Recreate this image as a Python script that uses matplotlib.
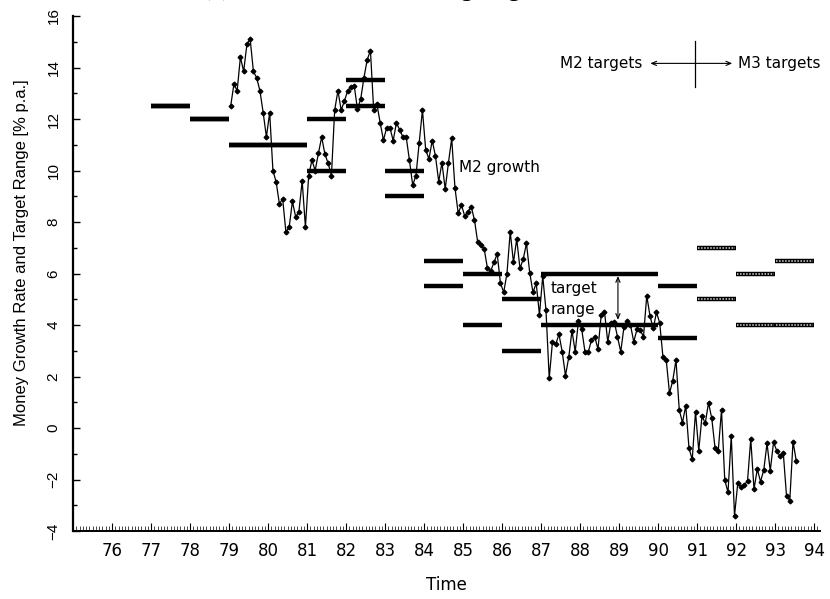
import numpy as np
import matplotlib
matplotlib.use("Agg")
import matplotlib.pyplot as plt

# monthly M2 growth, Jan 1979 onwards (% p.a.)
m2_growth = [
    12.5, 13.35, 13.1, 14.4, 13.85, 14.9, 15.1, 13.85, 13.6, 13.1, 12.25, 11.3,
    12.25, 10.0, 9.55, 8.7, 8.9, 7.6, 7.8, 8.8, 8.2, 8.4, 9.6, 7.8,
    9.8, 10.4, 10.0, 10.67, 11.3, 10.63, 10.28, 9.8, 12.35, 13.1, 12.35, 12.7,
    13.1, 13.25, 13.3, 12.4, 12.77, 13.6, 14.3, 14.66, 12.35, 12.57, 11.85, 11.18,
    11.66, 11.66, 11.16, 11.85, 11.57, 11.3, 11.3, 10.4, 9.43, 9.8, 11.08, 12.35,
    10.8, 10.45, 11.16, 10.57, 9.57, 10.3, 9.28, 10.3, 11.25, 9.33, 8.34, 8.66,
    8.23, 8.4, 8.6, 8.08, 7.22, 7.1, 6.95, 6.2, 6.1, 6.43, 6.76, 5.62,
    5.27, 6.0, 7.62, 6.43, 7.34, 6.2, 6.56, 7.17, 6.03, 5.27, 5.62, 4.39,
    5.9, 4.58, 1.93, 3.35, 3.25, 3.64, 2.96, 2.03, 2.74, 3.78, 2.96, 4.17,
    3.83, 2.96, 2.94, 3.42, 3.55, 3.06, 4.39, 4.52, 3.35, 4.09, 4.13, 3.55,
    2.96, 3.93, 4.17, 4.0, 3.35, 3.83, 3.8, 3.55, 5.14, 4.35, 3.87, 4.49,
    4.07, 2.74, 2.64, 1.35, 1.84, 2.64, 0.7, 0.21, 0.87, -0.79, -1.22, 0.63,
    -0.88, 0.47, 0.18, 0.98, 0.38, -0.76, -0.88, 0.7, -2.02, -2.5, -0.31, -3.4,
    -2.15, -2.28, -2.21, -2.06, -0.43, -2.38, -1.6, -2.08, -1.63, -0.6, -1.66, -0.56,
    -0.88, -1.09, -0.96, -2.64, -2.82, -0.53, -1.28,
]
start_year = 79

# target ranges: (from, to) year, lower and upper bound
m2_periods = [(77, 78), (78, 79), (79, 81), (81, 82), (82, 83), (83, 84),
              (84, 85), (85, 86), (86, 87), (87, 90), (90, 91)]
m2_low = [12.5, 12.0, 11.0, 10.0, 12.5, 9.0, 5.5, 4.0, 3.0, 4.0, 3.5]
m2_high = [12.5, 12.0, 11.0, 12.0, 13.5, 10.0, 6.5, 6.0, 5.0, 6.0, 5.5]

m3_periods = [(91, 92), (92, 93), (93, 94)]
m3_low = [5.0, 4.0, 4.0]
m3_high = [7.0, 6.0, 6.5]

year_ticks = list(range(76, 95))

t = start_year + (np.arange(len(m2_growth)) + 0.5) / 12

fig = plt.figure(figsize=(8.3, 5.99), dpi=100)
ax = fig.add_axes([73 / 830, 1 - 531 / 599, (820 - 73) / 830, (531 - 16) / 599])

# M2 targets (solid)
for (a, b), lo, hi in zip(m2_periods, m2_low, m2_high):
    ax.hlines([lo, hi], a, b, colors="black", linewidth=3.2, zorder=2)

# M3 targets (outlined, dotted fill)
for (a, b), lo, hi in zip(m3_periods, m3_low, m3_high):
    ax.hlines([lo, hi], a, b, colors="black", linewidth=3.2, zorder=2)
    ax.hlines([lo, hi], a + 0.03, b - 0.03, colors="#d8d8d8", linewidth=1.1,
              linestyles=(0, (1, 1)), zorder=3)

ax.plot(t, m2_growth, color="black", linewidth=0.9, marker="D", markersize=2.4,
        zorder=4)

ax.set_xlim(75.05, 94.15)
ax.set_ylim(-4, 16)

ax.spines["top"].set_visible(False)
ax.spines["right"].set_visible(False)
ax.spines["left"].set_linewidth(1.6)
ax.spines["bottom"].set_linewidth(1.4)

ax.set_xticks(year_ticks)
ax.set_xticklabels([str(y) for y in year_ticks],
                   fontfamily=["Liberation Sans Narrow", "DejaVu Sans"], fontsize=12)
ax.set_xticks(np.arange(75, 94.1, 1 / 12), minor=True)
ax.set_yticks(range(-4, 17, 2))
ax.set_yticks(range(-4, 17), minor=True)
ax.set_yticklabels([str(v).replace("-", "\u2212") for v in range(-4, 17, 2)],
                   fontfamily=["Liberation Sans", "DejaVu Sans"], fontsize=11,
                   rotation=90, va="center")

ax.tick_params(axis="x", which="major", direction="in", length=6, width=0.8, pad=8)
ax.tick_params(axis="x", which="minor", direction="in", length=3.5, width=0.5)
ax.tick_params(axis="y", which="major", direction="in", length=5, width=1.0, pad=9)
ax.tick_params(axis="y", which="minor", direction="in", length=3, width=1.0)

fig.text(446 / 830, 1 - 585 / 599, "Time", ha="center", va="center",
         fontfamily=["Liberation Sans Narrow", "DejaVu Sans"], fontsize=12)
fig.text(22 / 830, 1 - 253 / 599, "Money Growth Rate and Target Range [% p.a.]",
         rotation=90, ha="center", va="center",
         fontfamily=["Liberation Sans", "DejaVu Sans"], fontsize=12)

# title sits above the top edge; only its descenders show
fig.text(203 / 830, 1 + 4 / 599, "(b) France: M2 and M3 targeting, 1977-93",
         ha="left", va="baseline", fontfamily=["Liberation Serif", "DejaVu Serif"],
         fontweight="bold", fontsize=16)

note = dict(fontfamily=["DejaVu Sans"], fontsize=11, color="black")
ax.text(84.9, 10.1, "M2 growth", ha="left", va="center", **note)
ax.text(87.25, 5.4, "target", ha="left", va="center", **note)
ax.text(87.25, 4.6, "range", ha="left", va="center", **note)
ax.annotate("", xy=(88.97, 5.9), xytext=(88.97, 4.2),
            arrowprops=dict(arrowstyle="<->,head_length=0.35,head_width=0.15",
                            lw=0.8, color="black", shrinkA=0, shrinkB=0))

# M2 / M3 split marker
ax.plot([90.95, 90.95], [13.25, 15.03], color="black", linewidth=0.9)
ax.annotate("", xy=(89.8, 14.16), xytext=(91.9, 14.16),
            arrowprops=dict(arrowstyle="<->,head_length=0.35,head_width=0.15",
                            lw=0.8, color="black", shrinkA=0, shrinkB=0))
ax.text(89.6, 14.16, "M2 targets", ha="right", va="center", **note)
ax.text(92.05, 14.16, "M3 targets", ha="left", va="center", **note)

fig.savefig("out.png", dpi=100)
